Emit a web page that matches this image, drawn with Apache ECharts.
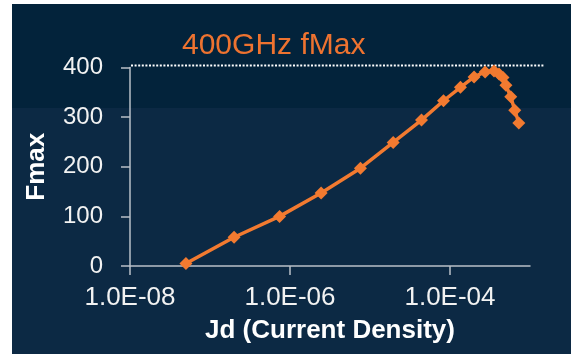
<!DOCTYPE html>
<html>
<head>
<meta charset="utf-8">
<script src="https://cdn.jsdelivr.net/npm/echarts@6/dist/echarts.min.js"></script>
<style>
html,body{margin:0;padding:0;background:#ffffff;}
#chart{width:571px;height:354px;}
</style>
</head>
<body>
<div id="chart"></div>
<script>
// Jd (current density) values and Fmax values
const jdValues = [5.0e-8, 2.0e-7, 7.4e-7, 2.45e-6, 7.6e-6, 1.95e-5, 4.4e-5, 8.3e-5, 1.35e-4, 2.0e-4, 2.75e-4, 3.55e-4, 4.1e-4, 4.6e-4, 5.0e-4, 5.75e-4, 6.45e-4, 7.25e-4];
const fmaxValues = [5, 58, 100, 147, 197, 249, 294, 333, 360, 381, 391, 393, 387, 380, 364, 341, 314, 288];
const xTickValues = [1e-8, 1e-6, 1e-4];
const yTickValues = [0, 100, 200, 300, 400];
const fmaxLimit = 404;
const limitLabel = '400GHz fMax';
const xName = 'Jd (Current Density)';
const yName = 'Fmax';

const FONT = '"Liberation Sans", Arial, sans-serif';
const ORANGE = '#F27A30';
const AXIS = '#b9c0c8';

function fmtExp(v) {
  const e = Math.round(Math.log10(v));
  const m = v / Math.pow(10, e);
  const sign = e < 0 ? '-' : '+';
  const ae = Math.abs(e);
  return m.toFixed(1) + 'E' + sign + (ae < 10 ? '0' + ae : '' + ae);
}

const chart = echarts.init(document.getElementById('chart'), null, {renderer: 'canvas'});
const seriesData = jdValues.map((x, i) => [x, fmaxValues[i]]);

const option = {
  animation: false,
  backgroundColor: '#ffffff',
  grid: {left: 130, right: 41, top: 67.5, bottom: 88, containLabel: false, outerBoundsMode: 'none'},
  xAxis: {
    type: 'log', logBase: 10, min: 1e-8, max: 1e-3,
    name: xName, nameLocation: 'middle', nameGap: 52,
    nameTextStyle: {color: '#ffffff', fontFamily: FONT, fontWeight: 'bold', fontSize: 26},
    axisLine: {show: true, lineStyle: {color: AXIS, width: 1.5}},
    axisTick: {show: true, length: 9, inside: false, customValues: xTickValues, lineStyle: {color: AXIS, width: 1.5}},
    axisLabel: {customValues: xTickValues, margin: 19, color: '#f2f2f2', fontFamily: FONT, fontSize: 26,
      formatter: v => fmtExp(v)},
    splitLine: {show: false}, minorTick: {show: false}
  },
  yAxis: {
    type: 'value', min: 0, max: 400, interval: 100,
    name: yName, nameLocation: 'middle', nameGap: 80, nameRotate: 90,
    nameTextStyle: {color: '#ffffff', fontFamily: FONT, fontWeight: 'bold', fontSize: 26},
    axisLine: {show: true, lineStyle: {color: AXIS, width: 1.5}},
    axisTick: {show: true, length: 9, inside: false, lineStyle: {color: AXIS, width: 1.5}},
    axisLabel: {margin: 27, color: '#f2f2f2', fontFamily: FONT, fontSize: 24,
      formatter: v => (yTickValues.indexOf(v) >= 0 ? String(v) : '')},
    splitLine: {show: false}
  },
  series: [{
    type: 'line', data: seriesData, symbol: 'diamond', symbolSize: 13,
    lineStyle: {color: ORANGE, width: 3.5},
    itemStyle: {color: ORANGE},
    z: 5
  }]
};
chart.setOption(option);

function drawDecor() {
  const y = chart.convertToPixel({yAxisIndex: 0}, fmaxLimit);
  const x0 = chart.convertToPixel({xAxisIndex: 0}, xTickValues[0]);
  chart.setOption({
    graphic: [
      {type: 'rect', z: -10, silent: true, shape: {x: 12, y: 4, width: 559, height: 104}, style: {fill: '#03233b'}},
      {type: 'rect', z: -10, silent: true, shape: {x: 12, y: 108, width: 559, height: 246}, style: {fill: '#0c2944'}},
      {type: 'line', z: 3, silent: true, shape: {x1: x0 + 1, y1: y, x2: 544, y2: y},
        style: {stroke: '#ffffff', lineWidth: 2, lineDash: [2, 1.6]}},
      {type: 'text', z: 4, silent: true, x: 182, y: 31,
        style: {text: limitLabel, fill: '#EE7330', font: '30px ' + FONT, textVerticalAlign: 'top'}}
    ]
  });
}
drawDecor();
</script>
</body>
</html>
